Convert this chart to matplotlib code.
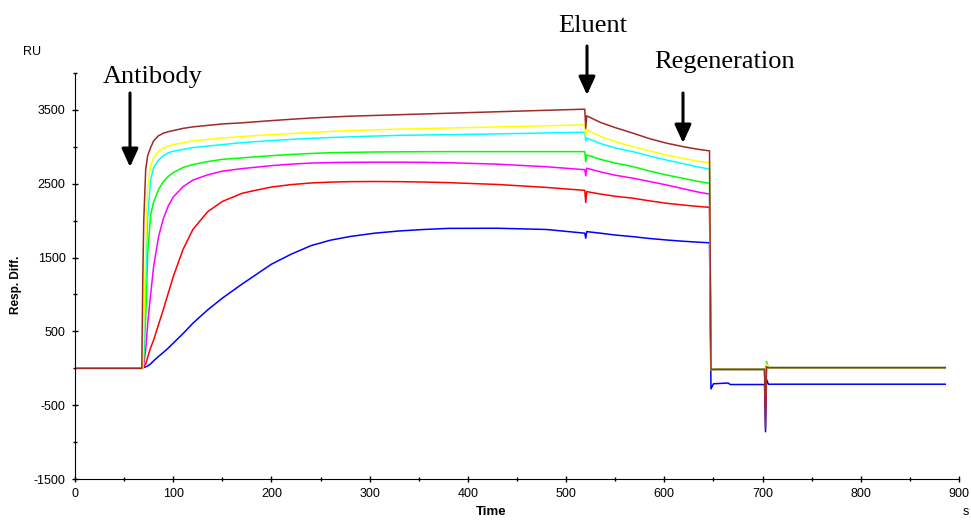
import matplotlib
matplotlib.use('Agg')
import matplotlib.pyplot as plt
from matplotlib.ticker import FixedLocator

plt.rcParams['font.family'] = ['Liberation Sans', 'DejaVu Sans']
plt.rcParams['axes.unicode_minus'] = False

# time grids (s) for each phase of the sensorgram
TIME_BASE = [0, 68]
TIME_ASSOC = [69, 70, 72, 74, 77, 80, 85, 90, 95, 100, 110, 120, 135, 150,
              170, 180, 200, 220, 240, 260, 280, 305, 330, 355, 380, 430, 480, 519]
TIME_ELUENT = [520]
TIME_DISS = [521, 535, 550, 568, 585, 602, 620, 635, 646]
TIME_REGEN = [647.5, 650, 665, 667, 702, 703, 704, 706, 886]

# response (RU) per concentration, lowest to highest
blue_assoc = [0, 10, 20, 30, 60, 100, 160, 215, 275, 340, 470, 610, 790, 950,
              1140, 1230, 1410, 1545, 1660, 1735, 1785, 1830, 1860, 1880, 1895,
              1897, 1880, 1830]
blue_eluent = [1762]
blue_diss = [1851, 1830, 1805, 1783, 1758, 1738, 1720, 1708, 1700]
blue_regen = [-280, -210, -200, -220, -220, -860, -150, -216, -216]

red_assoc = [0, 20, 60, 150, 280, 380, 590, 800, 1020, 1240, 1610, 1880, 2120,
             2260, 2370, 2400, 2455, 2488, 2510, 2522, 2528, 2530, 2528, 2523,
             2515, 2490, 2450, 2410]
red_eluent = [2245]
red_diss = [2393, 2360, 2330, 2304, 2268, 2236, 2210, 2192, 2180]
red_regen = [-20, -15, -15, -15, -15, -550, 30, 8, 8]

magenta_assoc = [0, 50, 250, 600, 1000, 1370, 1780, 2030, 2200, 2320, 2460, 2550,
                 2620, 2670, 2705, 2718, 2745, 2765, 2780, 2787, 2790, 2792, 2792,
                 2790, 2785, 2765, 2730, 2690]
magenta_eluent = [2606]
magenta_diss = [2710, 2660, 2615, 2575, 2530, 2484, 2430, 2385, 2360]
magenta_regen = [-20, -15, -15, -15, -15, -400, 30, 8, 8]

green_assoc = [0, 150, 700, 1550, 2080, 2250, 2420, 2530, 2600, 2650, 2720, 2760,
               2800, 2830, 2850, 2860, 2880, 2897, 2910, 2920, 2925, 2930, 2932,
               2934, 2935, 2935, 2935, 2935]
green_eluent = [2800]
green_diss = [2890, 2830, 2780, 2732, 2672, 2619, 2570, 2530, 2505]
green_regen = [-20, -15, -15, -15, -15, -300, 90, 8, 8]

cyan_assoc = [0, 300, 1200, 2050, 2550, 2720, 2820, 2880, 2920, 2940, 2965, 2990,
              3010, 3030, 3057, 3066, 3085, 3100, 3115, 3126, 3135, 3146, 3155,
              3160, 3165, 3175, 3188, 3198]
cyan_eluent = [3080]
cyan_diss = [3117, 3045, 2985, 2935, 2875, 2822, 2770, 2725, 2700]
cyan_regen = [-20, -15, -15, -15, -15, -300, 40, 8, 8]

yellow_assoc = [0, 600, 1700, 2450, 2740, 2850, 2940, 2985, 3010, 3030, 3055, 3080,
                3100, 3120, 3140, 3148, 3165, 3180, 3195, 3208, 3220, 3230, 3240,
                3248, 3255, 3270, 3285, 3297]
yellow_eluent = [3150]
yellow_diss = [3230, 3140, 3070, 3003, 2945, 2890, 2840, 2805, 2785]
yellow_regen = [-20, -15, -15, -15, -15, -350, 60, 8, 8]

brown_assoc = [1200, 2000, 2700, 2880, 2990, 3080, 3150, 3185, 3205, 3220, 3250,
               3270, 3290, 3310, 3325, 3335, 3355, 3373, 3390, 3403, 3415, 3425,
               3435, 3445, 3455, 3475, 3495, 3510]
brown_eluent = [3250]
brown_diss = [3420, 3330, 3260, 3185, 3110, 3050, 3000, 2965, 2945]
brown_regen = [-20, -15, -15, -15, -15, -810, 20, 8, 8]

Y_MAJOR = [-1500, -500, 500, 1500, 2500, 3500]
Y_MINOR = [-1000, 0, 1000, 2000, 3000, 4000]
X_MAJOR = list(range(0, 901, 100))
X_MINOR = list(range(50, 900, 100))

series = [
    ('#0000ff', blue_assoc, blue_eluent, blue_diss, blue_regen),
    ('#ff0000', red_assoc, red_eluent, red_diss, red_regen),
    ('#ff00ff', magenta_assoc, magenta_eluent, magenta_diss, magenta_regen),
    ('#00ff00', green_assoc, green_eluent, green_diss, green_regen),
    ('#00ffff', cyan_assoc, cyan_eluent, cyan_diss, cyan_regen),
    ('#ffff00', yellow_assoc, yellow_eluent, yellow_diss, yellow_regen),
    ('#9e2a2a', brown_assoc, brown_eluent, brown_diss, brown_regen),
]

W, H = 971, 521
fig = plt.figure(figsize=(W / 100, H / 100), dpi=100)
ax = fig.add_axes([75 / W, 1 - 479 / H, (959 - 75) / W, (479 - 73) / H])

t_all = TIME_BASE + TIME_ASSOC + TIME_ELUENT + TIME_DISS + TIME_REGEN
for color, a, e, d, r in series:
    ax.plot(t_all, [0, 0] + a + e + d + r, color=color, lw=1.1)

ax.set_xlim(0, 900)
ax.set_ylim(-1500, 4000)
for s in ['top', 'right']:
    ax.spines[s].set_visible(False)
ax.xaxis.set_major_locator(FixedLocator(X_MAJOR))
ax.xaxis.set_minor_locator(FixedLocator(X_MINOR))
ax.yaxis.set_major_locator(FixedLocator(Y_MAJOR))
ax.yaxis.set_minor_locator(FixedLocator(Y_MINOR))
ax.tick_params(which='major', direction='inout', length=4.5, width=1, labelsize=9, pad=4.5)
ax.tick_params(which='minor', direction='inout', length=3, width=1)


def px(x, y):
    return x / W, 1 - y / H


fig.text(*px(32, 52), 'RU', fontsize=9, ha='center', va='center')
fig.text(*px(16, 285), 'Resp. Diff.', fontsize=8.5, fontweight='bold',
         rotation=90, ha='center', va='center')
fig.text(*px(491, 506), 'Time', fontsize=9.5, fontweight='bold', ha='center', va='top')
fig.text(*px(966, 506), 's', fontsize=9, ha='center', va='top')

serif = ['Liberation Serif', 'DejaVu Serif']
notes = [('Antibody', 153, 83, 130, 93, 167),
         ('Eluent', 593, 32, 587, 46, 95),
         ('Regeneration', 725, 68, 683, 93, 143)]
for label, tx, ty, axx, y0, y1 in notes:
    fig.text(*px(tx, ty), label, fontsize=19, family=serif, ha='center', va='baseline')
    ax.annotate('', xy=px(axx, y1), xytext=px(axx, y0), xycoords='figure fraction',
                textcoords='figure fraction',
                arrowprops=dict(arrowstyle='-|>,head_length=1.1,head_width=0.5',
                                lw=2.2, color='black', shrinkA=0, shrinkB=0))

plt.savefig('out.png', dpi=100)
plt.close()
